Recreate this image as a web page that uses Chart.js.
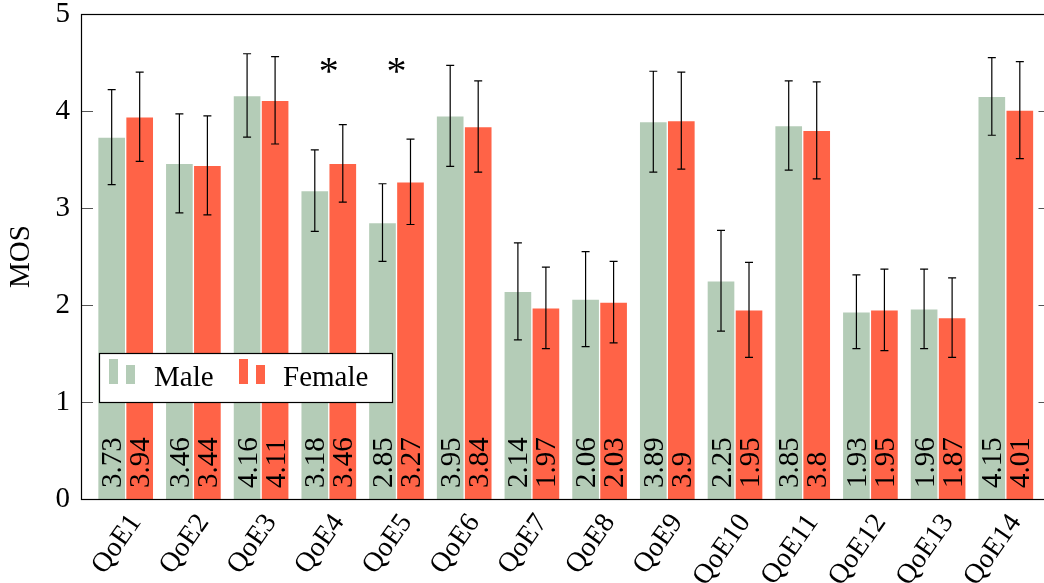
<!DOCTYPE html>
<html>
<head>
<meta charset="utf-8">
<script src="https://cdn.jsdelivr.net/npm/chart.js@4.4.1/dist/chart.umd.min.js"></script>
<style>
  html, body { margin: 0; padding: 0; background: #fff; overflow: hidden; }
</style>
</head>
<body>
<canvas id="chart" width="1052" height="583"></canvas>
<script>
const categories = ["QoE1", "QoE2", "QoE3", "QoE4", "QoE5", "QoE6", "QoE7",
                    "QoE8", "QoE9", "QoE10", "QoE11", "QoE12", "QoE13", "QoE14"];
const maleMOS   = [3.73, 3.46, 4.16, 3.18, 2.85, 3.95, 2.14, 2.06, 3.89, 2.25, 3.85, 1.93, 1.96, 4.15];
const femaleMOS = [3.94, 3.44, 4.11, 3.46, 3.27, 3.84, 1.97, 2.03, 3.9, 1.95, 3.8, 1.95, 1.87, 4.01];
const maleErr   = [0.49, 0.51, 0.43, 0.42, 0.40, 0.52, 0.50, 0.49, 0.52, 0.52, 0.46, 0.38, 0.41, 0.40];
const femaleErr = [0.46, 0.51, 0.45, 0.40, 0.44, 0.47, 0.42, 0.42, 0.50, 0.49, 0.50, 0.42, 0.41, 0.50];
const significant = [false, false, false, true, true, false, false, false, false, false, false, false, false, false];
const starLevel = 4.47;
const yTicks = [0, 1, 2, 3, 4, 5];

const FONT = "'Liberation Serif', 'DejaVu Serif', serif";
const maleColor = "#b4ccb7";
const femaleColor = "#ff6347";
const errors = [maleErr, femaleErr];

// error bars with caps
const errorBars = {
    id: "errorBars",
    afterDatasetsDraw(chart) {
        const ctx = chart.ctx;
        const y = chart.scales.y;
        ctx.save();
        ctx.strokeStyle = "#000";
        ctx.lineWidth = 1.2;
        chart.data.datasets.forEach((ds, d) => {
            chart.getDatasetMeta(d).data.forEach((bar, i) => {
                const v = ds.data[i].y;
                const hi = y.getPixelForValue(v + errors[d][i]);
                const lo = y.getPixelForValue(v - errors[d][i]);
                ctx.beginPath();
                ctx.moveTo(bar.x, hi); ctx.lineTo(bar.x, lo);
                ctx.moveTo(bar.x - 4, hi); ctx.lineTo(bar.x + 4, hi);
                ctx.moveTo(bar.x - 4, lo); ctx.lineTo(bar.x + 4, lo);
                ctx.stroke();
            });
        });
        ctx.restore();
    }
};

// rotated value labels near the bottom of each bar
const valueLabels = {
    id: "valueLabels",
    afterDatasetsDraw(chart) {
        const ctx = chart.ctx;
        const bottom = chart.scales.y.getPixelForValue(0);
        ctx.save();
        ctx.font = "29px " + FONT;
        ctx.fillStyle = "#000";
        ctx.textAlign = "left";
        ctx.textBaseline = "alphabetic";
        chart.data.datasets.forEach((ds, d) => {
            chart.getDatasetMeta(d).data.forEach((bar, i) => {
                ctx.save();
                ctx.translate(bar.x + 9.5, bottom - 11);
                ctx.rotate(-Math.PI / 2);
                ctx.fillText(String(ds.data[i].y), 0, 0);
                ctx.restore();
            });
        });
        ctx.restore();
    }
};

// axis box, inward ticks, significance stars, legend
const decorations = {
    id: "decorations",
    afterDraw(chart) {
        const ctx = chart.ctx;
        const a = chart.chartArea;
        const y = chart.scales.y;
        const x = chart.scales.x;
        ctx.save();

        ctx.strokeStyle = "#555";
        ctx.lineWidth = 1;
        yTicks.forEach(t => {
            const py = Math.round(y.getPixelForValue(t)) + 0.5;
            ctx.beginPath();
            ctx.moveTo(a.left, py); ctx.lineTo(a.left + 12, py);
            ctx.moveTo(a.right - 12, py); ctx.lineTo(a.right, py);
            ctx.stroke();
        });

        ctx.strokeStyle = "#000";
        ctx.lineWidth = 1.2;
        ctx.strokeRect(Math.round(a.left) + 0.5, Math.round(a.top) + 0.5,
                       Math.round(a.right - a.left), Math.round(a.bottom - a.top));

        ctx.fillStyle = "#000";
        ctx.font = "40px " + FONT;
        ctx.textAlign = "center";
        const m = ctx.measureText("*");
        significant.forEach((s, i) => {
            if (!s) return;
            const px = x.getPixelForValue(i);
            const py = y.getPixelForValue(starLevel);
            const off = (m.actualBoundingBoxAscent - m.actualBoundingBoxDescent) / 2;
            ctx.fillText("*", px, py + off);
        });

        // legend
        const lx = a.left + 18, ly = 353, lw = 293, lh = 49;
        ctx.fillStyle = "#fff";
        ctx.fillRect(lx, ly, lw, lh);
        ctx.strokeStyle = "#000";
        ctx.lineWidth = 1.2;
        ctx.strokeRect(lx + 0.5, ly + 0.5, lw, lh);
        ctx.font = "29px " + FONT;
        ctx.textAlign = "left";
        ctx.textBaseline = "alphabetic";
        const items = [[10, 55], [140, 184]];
        chart.data.datasets.forEach((ds, d) => {
            const sx = lx + items[d][0];
            ctx.fillStyle = ds.backgroundColor;
            ctx.fillRect(sx, ly + 6, 9, 25);
            ctx.fillRect(sx + 17, ly + 12, 9, 19);
            ctx.fillStyle = "#000";
            ctx.fillText(ds.label, lx + items[d][1], ly + 33);
        });
        ctx.restore();
    }
};

new Chart(document.getElementById("chart"), {
    type: "bar",
    data: {
        datasets: [
            {
                label: "Male",
                data: maleMOS.map((v, i) => ({ x: i, y: v })),
                backgroundColor: maleColor,
                borderColor: "rgba(255,255,255,0.45)",
                borderWidth: 1,
                barThickness: 28
            },
            {
                label: "Female",
                data: femaleMOS.map((v, i) => ({ x: i, y: v })),
                backgroundColor: femaleColor,
                borderColor: "rgba(255,255,255,0.45)",
                borderWidth: 1,
                barThickness: 28
            }
        ]
    },
    options: {
        responsive: false,
        animation: false,
        layout: { padding: { top: 14, right: 1.5, left: 0, bottom: 0 } },
        plugins: { legend: { display: false }, tooltip: { enabled: false } },
        scales: {
            x: {
                type: "linear",
                offset: false,
                min: -0.66,
                max: 13.66,
                grid: { display: false, drawTicks: false, offset: false },
                border: { display: false },
                afterBuildTicks: s => { s.ticks = categories.map((c, i) => ({ value: i })); },
                afterFit: s => { s.height = 84; s.paddingLeft = 0; s.paddingRight = 0; },
                ticks: {
                    autoSkip: false,
                    minRotation: 55,
                    maxRotation: 55,
                    padding: 9,
                    labelOffset: 10,
                    color: "#000",
                    font: { family: FONT, size: 28 },
                    callback: v => categories[v]
                }
            },
            y: {
                min: 0,
                max: 5,
                grid: { display: false, drawTicks: false },
                border: { display: false },
                afterBuildTicks: s => { s.ticks = yTicks.map(v => ({ value: v })); },
                afterFit: s => { s.width = 81; s.paddingTop = 0; s.paddingBottom = 0; },
                ticks: {
                    padding: 11,
                    color: "#000",
                    font: { family: FONT, size: 29 }
                },
                title: {
                    display: true,
                    text: "MOS",
                    color: "#000",
                    font: { family: FONT, size: 29 },
                    padding: { top: 4, bottom: 0 }
                }
            }
        }
    },
    plugins: [errorBars, valueLabels, decorations]
});
</script>
</body>
</html>
